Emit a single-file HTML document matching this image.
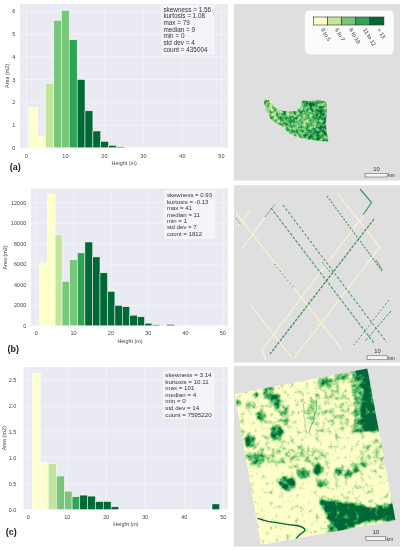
<!DOCTYPE html>
<html><head><meta charset="utf-8"><style>
html,body{margin:0;padding:0;background:#fff;}
body{width:403px;height:550px;overflow:hidden;}
svg{display:block;filter:blur(0.5px);}
text{font-family:"Liberation Sans",sans-serif;}
.tk{font-size:5.5px;fill:#444;}
.lb{font-size:5.4px;fill:#444;}
.st{font-size:6.3px;fill:#333;}
.pl{font-size:9px;font-weight:bold;fill:#222;}
.sb{font-size:5.8px;fill:#333;}
.sk{font-size:5px;fill:#333;}
.lg{font-size:5.5px;fill:#2a2a2a;}
</style></head><body>
<svg width="403" height="550" viewBox="0 0 403 550">
<defs>
<filter id="fc" x="230" y="364" width="170" height="186" filterUnits="userSpaceOnUse" color-interpolation-filters="sRGB">
<feGaussianBlur in="SourceGraphic" stdDeviation="1.5" result="d"/>
<feTurbulence type="fractalNoise" baseFrequency="0.2" numOctaves="3" seed="4" result="n"/>
<feColorMatrix in="n" type="matrix" values="1 0 0 0 0  1 0 0 0 0  1 0 0 0 0  0 0 0 0 1" result="ng"/>
<feComposite in="d" in2="ng" operator="arithmetic" k1="0" k2="1.35" k3="1.4" k4="-0.86" result="m"/>
<feComponentTransfer in="m">
<feFuncR type="table" tableValues="1 0.76 0.47 0.19 0"/>
<feFuncG type="table" tableValues="1 0.90 0.78 0.64 0.41"/>
<feFuncB type="table" tableValues="0.8 0.60 0.47 0.33 0.22"/>
<feFuncA type="discrete" tableValues="1"/>
</feComponentTransfer>
<feGaussianBlur stdDeviation="0.35"/>
</filter>
<filter id="fa" x="260" y="95" width="72" height="50" filterUnits="userSpaceOnUse" color-interpolation-filters="sRGB">
<feGaussianBlur in="SourceGraphic" stdDeviation="1.5" result="d"/>
<feTurbulence type="fractalNoise" baseFrequency="0.3" numOctaves="3" seed="9" result="n"/>
<feColorMatrix in="n" type="matrix" values="1 0 0 0 0  1 0 0 0 0  1 0 0 0 0  0 0 0 0 1" result="ng"/>
<feComposite in="d" in2="ng" operator="arithmetic" k1="0" k2="1.2" k3="1.4" k4="-0.75" result="m"/>
<feComponentTransfer in="m">
<feFuncR type="table" tableValues="1 0.76 0.47 0.19 0"/>
<feFuncG type="table" tableValues="1 0.90 0.78 0.64 0.41"/>
<feFuncB type="table" tableValues="0.8 0.60 0.47 0.33 0.22"/>
<feFuncA type="discrete" tableValues="1"/>
</feComponentTransfer>
</filter>
</defs>
<rect width="403" height="550" fill="#fff"/>
<rect x="20" y="4" width="208" height="143.8" fill="#eaeaf2"/>
<line x1="26.4" y1="4" x2="26.4" y2="147.8" stroke="#fff" stroke-width="0.8" stroke-opacity="0.5"/>
<line x1="65.4" y1="4" x2="65.4" y2="147.8" stroke="#fff" stroke-width="0.8" stroke-opacity="0.5"/>
<line x1="104.4" y1="4" x2="104.4" y2="147.8" stroke="#fff" stroke-width="0.8" stroke-opacity="0.5"/>
<line x1="143.4" y1="4" x2="143.4" y2="147.8" stroke="#fff" stroke-width="0.8" stroke-opacity="0.5"/>
<line x1="182.4" y1="4" x2="182.4" y2="147.8" stroke="#fff" stroke-width="0.8" stroke-opacity="0.5"/>
<line x1="221.4" y1="4" x2="221.4" y2="147.8" stroke="#fff" stroke-width="0.8" stroke-opacity="0.5"/>
<line x1="20" y1="147.8" x2="228" y2="147.8" stroke="#fff" stroke-width="0.8" stroke-opacity="0.5"/>
<line x1="20" y1="125.08" x2="228" y2="125.08" stroke="#fff" stroke-width="0.8" stroke-opacity="0.5"/>
<line x1="20" y1="102.36" x2="228" y2="102.36" stroke="#fff" stroke-width="0.8" stroke-opacity="0.5"/>
<line x1="20" y1="79.64" x2="228" y2="79.64" stroke="#fff" stroke-width="0.8" stroke-opacity="0.5"/>
<line x1="20" y1="56.92" x2="228" y2="56.92" stroke="#fff" stroke-width="0.8" stroke-opacity="0.5"/>
<line x1="20" y1="34.2" x2="228" y2="34.2" stroke="#fff" stroke-width="0.8" stroke-opacity="0.5"/>
<line x1="20" y1="11.48" x2="228" y2="11.48" stroke="#fff" stroke-width="0.8" stroke-opacity="0.5"/>
<rect x="28.6" y="107.7" width="9.2" height="40.1" fill="#ffffcc" stroke="#fff" stroke-width="0.5"/>
<rect x="37.8" y="136.3" width="7.6" height="11.5" fill="#ffffcc" stroke="#fff" stroke-width="0.5"/>
<rect x="45.5" y="83.2" width="8.3" height="64.6" fill="#c2e699" stroke="#fff" stroke-width="0.5"/>
<rect x="53.8" y="20.4" width="7.5" height="127.4" fill="#78c679" stroke="#fff" stroke-width="0.5"/>
<rect x="61.3" y="10.5" width="7.9" height="137.3" fill="#78c679" stroke="#fff" stroke-width="0.5"/>
<rect x="69.2" y="39.7" width="8" height="108.1" fill="#31a354" stroke="#fff" stroke-width="0.5"/>
<rect x="77.2" y="79.5" width="7.8" height="68.3" fill="#006837" stroke="#fff" stroke-width="0.5"/>
<rect x="85" y="110.8" width="7.9" height="37" fill="#006837" stroke="#fff" stroke-width="0.5"/>
<rect x="92.9" y="131" width="7.8" height="16.8" fill="#006837" stroke="#fff" stroke-width="0.5"/>
<rect x="100.7" y="141.4" width="7.9" height="6.4" fill="#006837" stroke="#fff" stroke-width="0.5"/>
<rect x="108.6" y="145.3" width="7.9" height="2.5" fill="#006837" stroke="#fff" stroke-width="0.5"/>
<rect x="116.5" y="146.8" width="7.7" height="1" fill="#006837" stroke="#fff" stroke-width="0.5"/>
<rect x="161.5" y="5" width="53" height="49.5" fill="#fff" fill-opacity="0.5"/>
<text x="163.4" y="11.6" class="st" style="font-size:6.38px">skewness = 1.56</text>
<text x="163.4" y="18.28" class="st" style="font-size:6.38px">kurtosis = 1.08</text>
<text x="163.4" y="24.96" class="st" style="font-size:6.38px">max = 79</text>
<text x="163.4" y="31.64" class="st" style="font-size:6.38px">median = 9</text>
<text x="163.4" y="38.32" class="st" style="font-size:6.38px">min = 0</text>
<text x="163.4" y="45" class="st" style="font-size:6.38px">std dev = 4</text>
<text x="163.4" y="51.68" class="st" style="font-size:6.38px">count = 435004</text>
<text x="26.4" y="157.8" class="tk" text-anchor="middle">0</text>
<text x="65.4" y="157.8" class="tk" text-anchor="middle">10</text>
<text x="104.4" y="157.8" class="tk" text-anchor="middle">20</text>
<text x="143.4" y="157.8" class="tk" text-anchor="middle">30</text>
<text x="182.4" y="157.8" class="tk" text-anchor="middle">40</text>
<text x="221.4" y="157.8" class="tk" text-anchor="middle">50</text>
<text x="15.2" y="149.8" class="tk" text-anchor="end">0</text>
<text x="15.2" y="127.08" class="tk" text-anchor="end">1</text>
<text x="15.2" y="104.36" class="tk" text-anchor="end">2</text>
<text x="15.2" y="81.64" class="tk" text-anchor="end">3</text>
<text x="15.2" y="58.92" class="tk" text-anchor="end">4</text>
<text x="15.2" y="36.2" class="tk" text-anchor="end">5</text>
<text x="15.2" y="13.48" class="tk" text-anchor="end">6</text>
<text transform="translate(8.6,75.9) rotate(-90)" class="lb" text-anchor="middle">Area (m2)</text>
<text x="124.2" y="165.4" class="lb" text-anchor="middle">Height (m)</text>
<text x="9.8" y="169.6" class="pl">(a)</text>
<rect x="31" y="188.5" width="197" height="137.3" fill="#eaeaf2"/>
<line x1="36.3" y1="188.5" x2="36.3" y2="325.8" stroke="#fff" stroke-width="0.8" stroke-opacity="0.5"/>
<line x1="73.6" y1="188.5" x2="73.6" y2="325.8" stroke="#fff" stroke-width="0.8" stroke-opacity="0.5"/>
<line x1="110.9" y1="188.5" x2="110.9" y2="325.8" stroke="#fff" stroke-width="0.8" stroke-opacity="0.5"/>
<line x1="148.2" y1="188.5" x2="148.2" y2="325.8" stroke="#fff" stroke-width="0.8" stroke-opacity="0.5"/>
<line x1="185.5" y1="188.5" x2="185.5" y2="325.8" stroke="#fff" stroke-width="0.8" stroke-opacity="0.5"/>
<line x1="222.8" y1="188.5" x2="222.8" y2="325.8" stroke="#fff" stroke-width="0.8" stroke-opacity="0.5"/>
<line x1="31" y1="325.8" x2="228" y2="325.8" stroke="#fff" stroke-width="0.8" stroke-opacity="0.5"/>
<line x1="31" y1="305.27" x2="228" y2="305.27" stroke="#fff" stroke-width="0.8" stroke-opacity="0.5"/>
<line x1="31" y1="284.73" x2="228" y2="284.73" stroke="#fff" stroke-width="0.8" stroke-opacity="0.5"/>
<line x1="31" y1="264.2" x2="228" y2="264.2" stroke="#fff" stroke-width="0.8" stroke-opacity="0.5"/>
<line x1="31" y1="243.66" x2="228" y2="243.66" stroke="#fff" stroke-width="0.8" stroke-opacity="0.5"/>
<line x1="31" y1="223.13" x2="228" y2="223.13" stroke="#fff" stroke-width="0.8" stroke-opacity="0.5"/>
<line x1="31" y1="202.6" x2="228" y2="202.6" stroke="#fff" stroke-width="0.8" stroke-opacity="0.5"/>
<rect x="39.7" y="262.8" width="7.8" height="63" fill="#ffffcc" stroke="#fff" stroke-width="0.5"/>
<rect x="47.5" y="194" width="7.6" height="131.8" fill="#ffffcc" stroke="#fff" stroke-width="0.5"/>
<rect x="55.1" y="234.5" width="7" height="91.3" fill="#c2e699" stroke="#fff" stroke-width="0.5"/>
<rect x="62.1" y="281.3" width="7.5" height="44.5" fill="#78c679" stroke="#fff" stroke-width="0.5"/>
<rect x="69.6" y="259.8" width="7.8" height="66" fill="#78c679" stroke="#fff" stroke-width="0.5"/>
<rect x="77.4" y="252.9" width="7.5" height="72.9" fill="#31a354" stroke="#fff" stroke-width="0.5"/>
<rect x="84.9" y="242" width="7.8" height="83.8" fill="#006837" stroke="#fff" stroke-width="0.5"/>
<rect x="92.7" y="256.9" width="7.3" height="68.9" fill="#006837" stroke="#fff" stroke-width="0.5"/>
<rect x="100" y="272.8" width="7.5" height="53" fill="#006837" stroke="#fff" stroke-width="0.5"/>
<rect x="107.5" y="291.3" width="7.4" height="34.5" fill="#006837" stroke="#fff" stroke-width="0.5"/>
<rect x="114.9" y="305.3" width="7.4" height="20.5" fill="#006837" stroke="#fff" stroke-width="0.5"/>
<rect x="122.3" y="306.7" width="7.4" height="19.1" fill="#006837" stroke="#fff" stroke-width="0.5"/>
<rect x="129.7" y="315.2" width="7.6" height="10.6" fill="#006837" stroke="#fff" stroke-width="0.5"/>
<rect x="137.3" y="316.8" width="7.3" height="9" fill="#006837" stroke="#fff" stroke-width="0.5"/>
<rect x="144.6" y="323.2" width="7.4" height="2.6" fill="#006837" stroke="#fff" stroke-width="0.5"/>
<rect x="152" y="324.8" width="7.4" height="1" fill="#006837" stroke="#fff" stroke-width="0.5"/>
<rect x="166.8" y="324.4" width="7.6" height="1.4" fill="#006837" stroke="#fff" stroke-width="0.5"/>
<rect x="164.2" y="190.2" width="51" height="48.7" fill="#fff" fill-opacity="0.5"/>
<text x="166.9" y="197.1" class="st" style="font-size:6.05px">skewness = 0.93</text>
<text x="166.9" y="203.57" class="st" style="font-size:6.05px">kurtosis = -0.13</text>
<text x="166.9" y="210.04" class="st" style="font-size:6.05px">max = 41</text>
<text x="166.9" y="216.51" class="st" style="font-size:6.05px">median = 11</text>
<text x="166.9" y="222.98" class="st" style="font-size:6.05px">min = 1</text>
<text x="166.9" y="229.45" class="st" style="font-size:6.05px">std dev = 7</text>
<text x="166.9" y="235.92" class="st" style="font-size:6.05px">count = 1812</text>
<text x="36.3" y="335.3" class="tk" text-anchor="middle">0</text>
<text x="73.6" y="335.3" class="tk" text-anchor="middle">10</text>
<text x="110.9" y="335.3" class="tk" text-anchor="middle">20</text>
<text x="148.2" y="335.3" class="tk" text-anchor="middle">30</text>
<text x="185.5" y="335.3" class="tk" text-anchor="middle">40</text>
<text x="222.8" y="335.3" class="tk" text-anchor="middle">50</text>
<text x="26.3" y="327.8" class="tk" text-anchor="end">0</text>
<text x="26.3" y="307.27" class="tk" text-anchor="end">2000</text>
<text x="26.3" y="286.73" class="tk" text-anchor="end">4000</text>
<text x="26.3" y="266.2" class="tk" text-anchor="end">6000</text>
<text x="26.3" y="245.66" class="tk" text-anchor="end">8000</text>
<text x="26.3" y="225.13" class="tk" text-anchor="end">10000</text>
<text x="26.3" y="204.6" class="tk" text-anchor="end">12000</text>
<text transform="translate(6.5,257.4) rotate(-90)" class="lb" text-anchor="middle">Area (m2)</text>
<text x="130" y="342.5" class="lb" text-anchor="middle">Height (m)</text>
<text x="7.5" y="352.2" class="pl">(b)</text>
<rect x="23.5" y="367" width="204.5" height="142.6" fill="#eaeaf2"/>
<line x1="28.2" y1="367" x2="28.2" y2="509.6" stroke="#fff" stroke-width="0.8" stroke-opacity="0.5"/>
<line x1="67.2" y1="367" x2="67.2" y2="509.6" stroke="#fff" stroke-width="0.8" stroke-opacity="0.5"/>
<line x1="106.2" y1="367" x2="106.2" y2="509.6" stroke="#fff" stroke-width="0.8" stroke-opacity="0.5"/>
<line x1="145.2" y1="367" x2="145.2" y2="509.6" stroke="#fff" stroke-width="0.8" stroke-opacity="0.5"/>
<line x1="184.2" y1="367" x2="184.2" y2="509.6" stroke="#fff" stroke-width="0.8" stroke-opacity="0.5"/>
<line x1="223.2" y1="367" x2="223.2" y2="509.6" stroke="#fff" stroke-width="0.8" stroke-opacity="0.5"/>
<line x1="23.5" y1="509.6" x2="228" y2="509.6" stroke="#fff" stroke-width="0.8" stroke-opacity="0.5"/>
<line x1="23.5" y1="483.7" x2="228" y2="483.7" stroke="#fff" stroke-width="0.8" stroke-opacity="0.5"/>
<line x1="23.5" y1="457.8" x2="228" y2="457.8" stroke="#fff" stroke-width="0.8" stroke-opacity="0.5"/>
<line x1="23.5" y1="431.9" x2="228" y2="431.9" stroke="#fff" stroke-width="0.8" stroke-opacity="0.5"/>
<line x1="23.5" y1="406" x2="228" y2="406" stroke="#fff" stroke-width="0.8" stroke-opacity="0.5"/>
<line x1="23.5" y1="380.1" x2="228" y2="380.1" stroke="#fff" stroke-width="0.8" stroke-opacity="0.5"/>
<rect x="32.4" y="373.5" width="7.9" height="136.1" fill="#ffffcc" stroke="#fff" stroke-width="0.5"/>
<rect x="40.3" y="462.8" width="7.9" height="46.8" fill="#ffffcc" stroke="#fff" stroke-width="0.5"/>
<rect x="48.2" y="463.8" width="8.1" height="45.8" fill="#c2e699" stroke="#fff" stroke-width="0.5"/>
<rect x="56.3" y="476" width="8.1" height="33.6" fill="#78c679" stroke="#fff" stroke-width="0.5"/>
<rect x="64.4" y="491.1" width="7.7" height="18.5" fill="#78c679" stroke="#fff" stroke-width="0.5"/>
<rect x="72.1" y="496.6" width="7.7" height="13" fill="#31a354" stroke="#fff" stroke-width="0.5"/>
<rect x="79.8" y="495.1" width="7.7" height="14.5" fill="#006837" stroke="#fff" stroke-width="0.5"/>
<rect x="87.5" y="496.1" width="7.9" height="13.5" fill="#006837" stroke="#fff" stroke-width="0.5"/>
<rect x="95.4" y="501.5" width="7.9" height="8.1" fill="#006837" stroke="#fff" stroke-width="0.5"/>
<rect x="103.3" y="501.5" width="7.8" height="8.1" fill="#006837" stroke="#fff" stroke-width="0.5"/>
<rect x="111.1" y="506.8" width="7.7" height="2.8" fill="#006837" stroke="#fff" stroke-width="0.5"/>
<rect x="212" y="503.9" width="7.6" height="5.7" fill="#006837" stroke="#fff" stroke-width="0.5"/>
<rect x="163.2" y="370.5" width="51.3" height="48.5" fill="#fff" fill-opacity="0.5"/>
<text x="165.3" y="377" class="st" style="font-size:6.2px">skewness = 3.14</text>
<text x="165.3" y="383.6" class="st" style="font-size:6.2px">kurtosis = 10.11</text>
<text x="165.3" y="390.2" class="st" style="font-size:6.2px">max = 101</text>
<text x="165.3" y="396.8" class="st" style="font-size:6.2px">median = 4</text>
<text x="165.3" y="403.4" class="st" style="font-size:6.2px">min = 0</text>
<text x="165.3" y="410" class="st" style="font-size:6.2px">std dev = 14</text>
<text x="165.3" y="416.6" class="st" style="font-size:6.2px">count = 7595220</text>
<text x="28.2" y="519" class="tk" text-anchor="middle">0</text>
<text x="67.2" y="519" class="tk" text-anchor="middle">10</text>
<text x="106.2" y="519" class="tk" text-anchor="middle">20</text>
<text x="145.2" y="519" class="tk" text-anchor="middle">30</text>
<text x="184.2" y="519" class="tk" text-anchor="middle">40</text>
<text x="223.2" y="519" class="tk" text-anchor="middle">50</text>
<text x="16.3" y="511.6" class="tk" text-anchor="end">0.0</text>
<text x="16.3" y="485.7" class="tk" text-anchor="end">0.5</text>
<text x="16.3" y="459.8" class="tk" text-anchor="end">1.0</text>
<text x="16.3" y="433.9" class="tk" text-anchor="end">1.5</text>
<text x="16.3" y="408" class="tk" text-anchor="end">2.0</text>
<text x="16.3" y="382.1" class="tk" text-anchor="end">2.5</text>
<text transform="translate(6.3,438.3) rotate(-90)" class="lb" text-anchor="middle">Area (m2)</text>
<text x="125.9" y="526.4" class="lb" text-anchor="middle">Height (m)</text>
<text x="5.8" y="535" class="pl">(c)</text>
<rect x="234" y="4" width="166" height="176.5" fill="#dfdfdf"/>
<rect x="234" y="185.3" width="166" height="177.3" fill="#dfdfdf"/>
<rect x="234" y="365.8" width="166" height="180.7" fill="#dfdfdf"/>
<clipPath id="ca"><polygon points="264,99.4 270.9,100.4 274.9,106.9 279.9,110.4 289.8,111.4 295.7,110.9 300.5,106.9 302,100.4 309.9,100.9 316.8,100.4 318.8,99.9 325.8,101.4 326.8,103.9 326.8,111.9 326,121.8 326.4,130 328.5,141.6 318.2,140.9 307.3,139.6 296.4,136.8 288.2,132.7 281,125.5 273.9,121.8 270,117.8 267,111.9 264.5,104.9"/></clipPath>
<g clip-path="url(#ca)"><g filter="url(#fa)">
<rect x="262" y="97" width="69" height="47" fill="rgb(135,135,135)"/>
<ellipse cx="270" cy="106" rx="7" ry="6" fill="rgb(86,86,86)"/>
<ellipse cx="278" cy="116" rx="6" ry="4" fill="rgb(102,102,102)"/>
<ellipse cx="300" cy="126" rx="9" ry="6" fill="rgb(127,127,127)"/>
<ellipse cx="318" cy="110" rx="7" ry="8" fill="rgb(173,173,173)"/>
<ellipse cx="316" cy="135" rx="12" ry="5" fill="rgb(178,178,178)"/>
<ellipse cx="290" cy="121" rx="6" ry="4" fill="rgb(158,158,158)"/>
<ellipse cx="310" cy="103" rx="8" ry="3" fill="rgb(183,183,183)"/>
<ellipse cx="323" cy="124" rx="4" ry="8" fill="rgb(183,183,183)"/>
<ellipse cx="266" cy="102" rx="3" ry="3" fill="rgb(140,140,140)"/>
<ellipse cx="284" cy="119" rx="4" ry="3" fill="rgb(168,168,168)"/>
<ellipse cx="306" cy="116" rx="5" ry="4" fill="rgb(127,127,127)"/>
</g></g>
<rect x="365.1" y="173.4" width="22.1" height="3.6" fill="#f4f4f4" stroke="#7a7a7a" stroke-width="0.7"/>
<text x="376.6" y="170.5" class="sb" text-anchor="middle">10</text>
<text x="388.2" y="177.4" class="sk">km</text>
<path d="M236,213 L342,350" fill="none" stroke="#f3f3d4" stroke-width="1.4" stroke-opacity="1"/>
<path d="M242,249 L265,217" fill="none" stroke="#f3f3d4" stroke-width="1.3" stroke-opacity="1"/>
<path d="M337,193 L380,247 L294,358" fill="none" stroke="#f3f3d4" stroke-width="1.4" stroke-opacity="1"/>
<path d="M366,212 L262,350 L266,360" fill="none" stroke="#f3f3d4" stroke-width="1.4" stroke-opacity="1"/>
<path d="M251,305 L292,358" fill="none" stroke="#f3f3d4" stroke-width="1.4" stroke-opacity="1"/>
<path d="M238,226 L250,211" fill="none" stroke="#f3f3d4" stroke-width="1.3" stroke-opacity="1"/>
<path d="M271,208 L374,343" fill="none" stroke="#4a9868" stroke-width="1.1" stroke-dasharray="3,1.5" stroke-opacity="1"/>
<path d="M283,205 L386.5,342" fill="none" stroke="#4a9868" stroke-width="1.1" stroke-dasharray="2.5,2" stroke-opacity="1"/>
<path d="M327,196 L382,271" fill="none" stroke="#4a9868" stroke-width="1.1" stroke-dasharray="2,1.5" stroke-opacity="1"/>
<path d="M360,189 L371.5,202.5 L363,215" fill="none" stroke="#4a9868" stroke-width="1.3" stroke-opacity="1"/>
<path d="M374,219 L270,354" fill="none" stroke="#3a8a5a" stroke-width="1.2" stroke-dasharray="3,1.2" stroke-opacity="1"/>
<path d="M389,300 L354,345" fill="none" stroke="#4a9868" stroke-width="1.0" stroke-dasharray="2,2" stroke-opacity="1"/>
<path d="M391,311 L365,341" fill="none" stroke="#4a9868" stroke-width="1.0" stroke-dasharray="3,1.5" stroke-opacity="1"/>
<path d="M376,260 L382,270" fill="none" stroke="#4a9868" stroke-width="1.0" stroke-opacity="1"/>
<path d="M274.5,264 L294,288" fill="none" stroke="#4a9868" stroke-width="1.0" stroke-dasharray="2,2" stroke-opacity="1"/>
<path d="M265,217 L275,204" fill="none" stroke="#4a9868" stroke-width="1.0" stroke-dasharray="2,1" stroke-opacity="1"/>
<path d="M236,218 L241,225" fill="none" stroke="#4a9868" stroke-width="0.9" stroke-dasharray="1.5,1.5" stroke-opacity="1"/>
<path d="M322,262 L330,272" fill="none" stroke="#4a9868" stroke-width="1.0" stroke-dasharray="2,1.5" stroke-opacity="1"/>
<rect x="367.1" y="355.7" width="20.2" height="4" fill="#f4f4f4" stroke="#7a7a7a" stroke-width="0.7"/>
<text x="377.4" y="352.8" class="sb" text-anchor="middle">10</text>
<text x="388.3" y="359.8" class="sk">km</text>
<clipPath id="cc"><polygon points="234.8,394.2 367.4,368.4 395.5,520.5 261,545"/></clipPath>
<g clip-path="url(#cc)"><g filter="url(#fc)">
<rect x="232" y="366" width="166" height="182" fill="rgb(22,22,22)"/>
<path d="M236,470 L318,478 L330,548 L236,548 Z" fill="rgb(10,10,10)"/>
<ellipse cx="262" cy="500" rx="22" ry="14" fill="rgb(5,5,5)"/>
<ellipse cx="330" cy="410" rx="24" ry="26" fill="rgb(51,51,51)"/>
<ellipse cx="375" cy="455" rx="14" ry="16" fill="rgb(56,56,56)"/>
<ellipse cx="290" cy="455" rx="40" ry="9" fill="rgb(66,66,66)"/>
<path d="M353.5,366 L369,366 L381,432 L359.5,432 L360.5,408 L363,391 Z" fill="rgb(242,242,242)"/>
<path d="M350,366 L356,366 L362,391 L359,410 L359,432 L352,432 L354,405 Z" fill="rgb(140,140,140)"/>
<path d="M318,500 L335.3,500.5 L356.7,504 L371.6,507.5 L384.4,504.5 L393,503.4 L398,503 L398,521 L375.9,520.4 L356.7,524.7 L345,530 L338,534 L330,524 L324.8,511.9 Z" fill="rgb(242,242,242)"/>
<ellipse cx="332" cy="530" rx="6" ry="5" fill="rgb(153,153,153)"/>
<ellipse cx="268" cy="393" rx="6" ry="7" fill="rgb(158,158,158)"/>
<ellipse cx="276" cy="401" rx="6" ry="8" fill="rgb(168,168,168)"/>
<ellipse cx="256" cy="394.5" rx="2.5" ry="3" fill="rgb(191,191,191)"/>
<ellipse cx="251" cy="405" rx="4" ry="3" fill="rgb(153,153,153)"/>
<ellipse cx="261" cy="416" rx="4.5" ry="4.5" fill="rgb(216,216,216)"/>
<ellipse cx="237.5" cy="403" rx="2.5" ry="4" fill="rgb(153,153,153)"/>
<ellipse cx="284" cy="416" rx="5" ry="10" fill="rgb(127,127,127)"/>
<ellipse cx="276.5" cy="433" rx="6" ry="8" fill="rgb(216,216,216)"/>
<ellipse cx="250" cy="441" rx="5.5" ry="6.5" fill="rgb(216,216,216)"/>
<ellipse cx="256" cy="458" rx="9" ry="8" fill="rgb(140,140,140)"/>
<ellipse cx="326" cy="382" rx="9" ry="6" fill="rgb(147,147,147)"/>
<ellipse cx="342" cy="377" rx="8" ry="5" fill="rgb(127,127,127)"/>
<ellipse cx="312" cy="410" rx="3" ry="9" fill="rgb(114,114,114)"/>
<ellipse cx="287.5" cy="483.5" rx="9" ry="7" fill="rgb(216,216,216)"/>
<ellipse cx="303.5" cy="473.5" rx="7" ry="5" fill="rgb(178,178,178)"/>
<ellipse cx="318" cy="469" rx="5" ry="6" fill="rgb(224,224,224)"/>
<ellipse cx="321" cy="483" rx="5" ry="3.5" fill="rgb(216,216,216)"/>
<ellipse cx="338" cy="472" rx="4" ry="4" fill="rgb(204,204,204)"/>
<ellipse cx="348" cy="474" rx="4" ry="4" fill="rgb(204,204,204)"/>
<ellipse cx="356" cy="468" rx="3.5" ry="4" fill="rgb(204,204,204)"/>
<ellipse cx="364" cy="465" rx="3.5" ry="3" fill="rgb(191,191,191)"/>
</g></g>
<g clip-path="url(#cc)">
<path d="M304.5,402 C302,406 305,409 304,413 C302.5,417 306,420 305,424 C304,428 307,431 306.6,434" fill="none" stroke="#78c679" stroke-width="0.7"/>
<path d="M317.2,401 C315,405 318,409 315,413 C313,417 315,420 313,423 C310,427 310,430 308.7,434" fill="none" stroke="#31a354" stroke-width="0.7"/>
<path d="M257.5,518.3 C265,521 270,522 276.7,522.6 C285,524 292,525 298,525.8 C303,527 306,529 304.4,531 C301,534 297,536 295.9,539.6" fill="none" stroke="#006837" stroke-width="1.4"/>
</g>
<rect x="365.8" y="536.6" width="19.8" height="3.7" fill="#f4f4f4" stroke="#7a7a7a" stroke-width="0.7"/>
<text x="376" y="534" class="sb" text-anchor="middle">10</text>
<text x="386.6" y="540.6" class="sk">km</text>
<rect x="304.8" y="10.4" width="89" height="44.2" rx="5" fill="#fbfbfb"/>
<rect x="313.6" y="17" width="14.06" height="8" fill="#ffffcc" stroke="#333" stroke-width="0.6"/>
<rect x="327.66" y="17" width="14.06" height="8" fill="#c2e699" stroke="#333" stroke-width="0.6"/>
<rect x="341.72" y="17" width="14.06" height="8" fill="#78c679" stroke="#333" stroke-width="0.6"/>
<rect x="355.78" y="17" width="14.06" height="8" fill="#31a354" stroke="#333" stroke-width="0.6"/>
<rect x="369.84" y="17" width="14.06" height="8" fill="#006837" stroke="#333" stroke-width="0.6"/>
<text transform="translate(320.83,29.6) rotate(60)" class="lg">0 to 5</text>
<text transform="translate(334.89,29.6) rotate(60)" class="lg">6 to 7</text>
<text transform="translate(348.95,29.6) rotate(60)" class="lg">8 to 10</text>
<text transform="translate(363.01,29.6) rotate(60)" class="lg">11 to 12</text>
<text transform="translate(377.07,29.6) rotate(60)" class="lg">&gt; 13</text>
</svg>
</body></html>
